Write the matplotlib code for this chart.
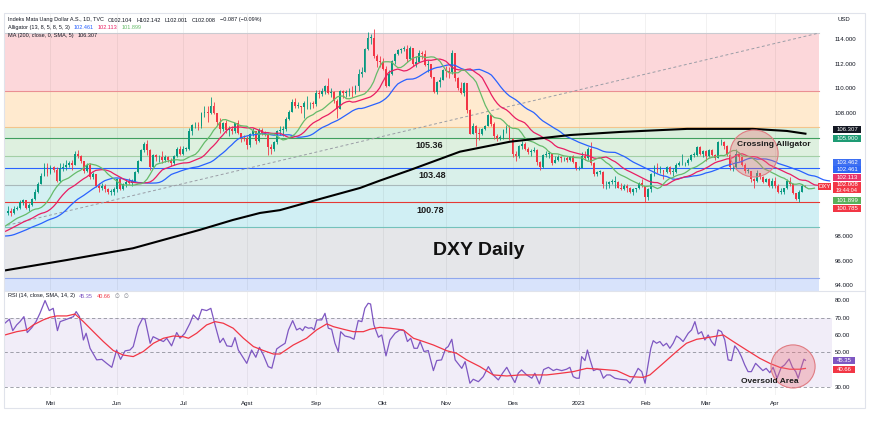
import numpy as np
import matplotlib
matplotlib.use("Agg")
import matplotlib.pyplot as plt
from matplotlib.patches import Rectangle, Ellipse

plt.rcParams['font.family'] = ['Liberation Sans', 'DejaVu Sans']

# ---------------- data (daily bars, 12 Apr 2022 .. 18 Apr 2023) ----------------
closes = [
    100.0, 99.9, 100.2, 100.3,
    100.8, 100.9, 100.3, 100.5, 101.0,
    101.6, 102.2, 102.9, 103.6, 103.1,
    103.6, 103.4, 102.5, 103.5, 103.6,
    103.8, 103.9, 103.8, 104.7, 104.5,
    104.1, 103.3, 103.8, 102.8, 103.0,
    102.1, 101.9, 102.1, 101.8, 101.6,
    101.6, 101.8, 102.6, 101.8, 102.2,
    102.4, 102.3, 102.5, 103.2, 104.1,
    105.0, 105.5, 105.0, 103.6, 104.6,
    104.4, 104.4, 104.2, 104.4, 104.2,
    103.9, 104.5, 105.1, 104.7, 105.1,
    105.1, 106.5, 107.0, 107.0, 106.9,
    108.0, 108.1, 108.0, 108.6, 108.0,
    107.3, 106.7, 107.2, 106.6, 106.7,
    106.5, 107.2, 106.4, 106.0, 105.9,
    105.4, 106.3, 106.5, 105.7, 106.6,
    106.4, 106.3, 105.2, 105.1, 105.6,
    106.5, 106.6, 106.7, 107.5, 108.1,
    108.9, 108.6, 108.6, 108.5, 108.8,
    108.8, 108.8, 108.7, 109.6, 109.5,
    109.8, 110.2, 109.6, 109.7, 109.0,
    108.3, 109.8, 109.6, 109.7, 109.8,
    109.6, 110.2, 111.2, 111.3, 113.2,
    114.1, 114.1, 112.6, 112.2, 112.1,
    111.6, 110.2, 111.2, 112.2, 112.8,
    113.1, 113.2, 113.2, 112.4, 113.3,
    112.0, 112.1, 112.9, 112.8, 111.9,
    112.0, 110.9, 109.7, 110.5, 110.7,
    111.5, 111.4, 111.3, 112.9, 110.8,
    110.0, 109.6, 110.4, 108.2, 106.3,
    106.9, 106.4, 106.3, 106.7, 106.9,
    107.8, 107.1, 106.1, 106.0, 106.0,
    106.6, 106.8, 105.9, 104.7, 104.5,
    105.3, 105.5, 105.1, 104.8, 104.9,
    105.0, 104.0, 103.6, 104.6, 104.7,
    104.7, 103.9, 104.2, 104.4, 104.3,
    104.3, 104.2, 104.5, 104.0, 103.5,
    103.5, 104.5, 104.3, 105.1, 103.9,
    103.0, 103.2, 103.2, 102.2, 102.2,
    102.4, 102.4, 102.4, 101.9, 101.8,
    102.1, 101.9, 101.6, 101.8, 101.9,
    102.3, 102.1, 101.2, 101.8, 103.0,
    103.6, 103.4, 103.4, 103.2, 103.6,
    103.2, 103.2, 103.8, 103.9, 103.9,
    103.9, 104.2, 104.6, 104.6, 105.2,
    104.7, 104.9, 104.5, 105.0, 104.6,
    104.3, 105.6, 105.6, 105.3, 104.6,
    103.6, 103.6, 104.7, 104.4, 103.8,
    103.3, 103.3, 102.6, 102.5, 103.1,
    102.8, 102.4, 102.6, 102.1, 102.5,
    102.1, 101.6, 101.6, 101.9,
    102.5, 102.2, 101.5, 101.0, 101.55, 102.1, 102.008,
]
highs = [
    100.4, 100.3, 100.4, 100.4,
    100.9, 101.0, 100.9, 100.7, 101.1,
    101.8, 102.4, 103.1, 103.9, 103.9,
    103.8, 103.7, 103.6, 103.9, 103.9,
    104.2, 104.1, 104.2, 104.9, 105.0,
    104.6, 104.1, 103.9, 103.9, 103.2,
    103.0, 102.3, 102.3, 102.2, 101.9,
    101.8, 102.0, 102.7, 102.6, 102.3,
    102.6, 102.7, 102.6, 103.3, 104.2,
    105.1, 105.6, 105.8, 105.1, 104.7,
    104.7, 104.6, 104.9, 104.6, 104.5,
    104.3, 104.6, 105.2, 105.3, 105.3,
    105.2, 106.8, 107.1, 107.3, 107.3,
    108.1, 108.6, 108.6, 109.3, 108.9,
    108.0, 107.6, 107.3, 107.4, 106.9,
    106.9, 107.2, 107.4, 106.4, 106.2,
    106.1, 106.4, 106.8, 106.5, 106.8,
    106.8, 106.5, 106.4, 105.5, 105.7,
    106.6, 106.9, 106.9, 107.7, 108.2,
    109.1, 109.2, 108.9, 108.6, 109.0,
    109.4, 108.9, 109.0, 109.9, 109.9,
    110.0, 110.3, 110.8, 110.0, 109.8,
    109.1, 109.9, 109.9, 109.9, 110.0,
    110.2, 110.3, 111.6, 111.7, 113.3,
    114.6, 114.4, 114.8, 112.8, 112.6,
    112.5, 111.8, 111.5, 112.3, 112.9,
    113.2, 113.3, 113.4, 113.5, 113.4,
    113.3, 112.6, 113.1, 113.0, 113.1,
    112.3, 112.0, 110.9, 110.6, 110.9,
    111.6, 111.8, 111.7, 113.1, 112.9,
    110.9, 110.5, 110.5, 110.4, 108.3,
    107.2, 107.0, 106.8, 106.8, 107.0,
    107.9, 107.8, 107.3, 106.3, 106.2,
    106.7, 107.0, 107.0, 106.0, 104.9,
    105.4, 105.7, 105.6, 105.2, 105.1,
    105.2, 105.1, 104.1, 104.7, 104.9,
    104.9, 104.7, 104.5, 104.6, 104.5,
    104.4, 104.5, 104.5, 104.6, 103.9,
    103.7, 104.8, 104.9, 105.2, 105.6,
    104.0, 103.3, 103.4, 103.3, 102.5,
    102.5, 102.6, 102.9, 102.5, 102.3,
    102.2, 102.2, 102.0, 101.9, 101.9,
    102.4, 102.6, 102.1, 101.9, 103.1,
    103.8, 103.9, 103.7, 103.4, 103.7,
    103.7, 103.5, 103.9, 104.1, 104.7,
    104.0, 104.3, 104.7, 104.8, 105.3,
    105.3, 105.0, 105.0, 105.1, 105.1,
    104.7, 105.7, 105.9, 105.7, 105.4,
    104.0, 103.8, 105.1, 104.8, 104.5,
    103.9, 103.5, 103.3, 102.7, 103.4,
    103.1, 102.9, 102.7, 102.7, 102.7,
    102.8, 102.2, 101.9, 101.9,
    102.6, 102.8, 102.3, 101.5, 101.7, 102.2, 102.142,
]
lows = [
    99.7, 99.6, 99.8, 100.1,
    100.2, 100.5, 100.2, 100.0, 100.4,
    100.9, 101.5, 102.2, 102.9, 102.9,
    103.0, 103.2, 102.4, 102.4, 103.3,
    103.4, 103.6, 103.4, 103.8, 104.3,
    103.9, 103.1, 103.2, 102.6, 102.6,
    102.0, 101.6, 101.7, 101.6, 101.4,
    101.3, 101.3, 101.6, 101.7, 101.7,
    102.0, 102.2, 102.1, 102.4, 103.1,
    104.1, 104.8, 104.6, 103.4, 103.6,
    104.1, 104.0, 103.9, 104.0, 104.0,
    103.7, 103.8, 104.4, 104.6, 104.6,
    104.9, 105.0, 106.2, 106.8, 106.6,
    106.8, 107.7, 107.3, 107.9, 107.9,
    107.0, 106.4, 106.5, 106.4, 106.1,
    106.3, 106.4, 106.3, 105.6, 105.7,
    105.1, 105.2, 106.1, 105.5, 105.6,
    106.2, 106.1, 104.6, 104.7, 104.9,
    105.5, 106.2, 106.1, 106.5, 107.4,
    108.1, 108.4, 108.4, 108.0, 107.6,
    108.3, 108.3, 108.4, 108.6, 109.2,
    109.4, 109.5, 109.5, 109.3, 108.8,
    107.6, 108.3, 109.2, 109.3, 109.4,
    109.3, 109.5, 109.8, 110.9, 111.3,
    113.1, 113.6, 112.5, 111.7, 111.7,
    111.5, 110.1, 110.3, 111.1, 112.0,
    112.7, 112.9, 113.0, 112.1, 112.3,
    111.8, 111.7, 112.1, 112.4, 111.8,
    111.3, 110.8, 109.6, 109.5, 110.1,
    110.7, 110.9, 110.8, 111.2, 110.6,
    109.9, 109.5, 109.4, 108.0, 106.3,
    106.3, 105.3, 105.8, 106.2, 106.6,
    106.9, 106.9, 105.9, 105.7, 105.8,
    105.9, 106.4, 105.8, 104.4, 104.1,
    104.3, 105.1, 105.0, 104.7, 104.5,
    104.8, 103.8, 103.4, 103.5, 104.4,
    104.3, 103.8, 103.9, 104.1, 104.0,
    104.1, 104.0, 104.1, 103.9, 103.4,
    103.4, 103.5, 104.2, 104.2, 103.8,
    102.9, 102.9, 103.0, 101.9, 101.8,
    101.9, 102.2, 101.9, 101.9, 101.7,
    101.7, 101.6, 101.5, 101.3, 101.6,
    101.8, 102.0, 100.8, 100.9, 101.6,
    102.9, 103.1, 103.1, 102.6, 103.1,
    103.0, 102.9, 103.1, 103.7, 103.8,
    103.7, 103.8, 104.1, 104.4, 104.5,
    104.6, 104.4, 104.1, 104.4, 104.5,
    104.2, 104.3, 105.4, 105.1, 104.5,
    103.4, 103.3, 103.5, 104.1, 103.7,
    103.1, 103.1, 102.4, 101.9, 102.4,
    102.6, 102.3, 102.4, 102.0, 101.9,
    101.9, 101.5, 101.4, 101.4,
    101.8, 102.1, 101.4, 100.9, 100.79, 101.55, 102.001,
]
first_open = 99.9
# closes before the visible range, only used to start the Alligator averages
warmup_closes = [
    96.0, 95.8, 95.7, 95.8, 96.0, 95.9, 96.1, 96.1, 96.9, 96.6,
    96.6, 97.3, 97.3, 97.7, 98.4, 98.9, 99.0, 98.0, 98.4, 99.0,
    98.9, 98.5, 98.3, 97.8, 98.1, 98.4, 98.4, 98.5, 98.7, 98.7,
    98.9, 98.3, 97.8, 98.2, 98.5, 98.9, 99.3, 99.5, 99.6, 99.7, 100.0,
]

# 200-day SMA (bar index, value)
ma200_x = [-1.1, 19.5, 41.3, 63.5, 74.4, 83.4, 90.0, 99.9, 116.5, 123.1, 133.1,
           149.6, 166.2, 176.1, 186.0, 202.6, 224.8, 246.6, 257.9, 264.0]
ma200_y = [95.2, 96.05, 97.0, 98.5, 99.3, 99.87, 100.1, 100.78, 101.9, 102.5, 103.36,
           104.85, 105.66, 105.93, 106.2, 106.45, 106.7, 106.7, 106.53, 106.31]

# RSI(14)
rsi_x = [-1.1, 0.4, 1.5, 2.8, 3.9, 5.2, 6.3, 7.8, 9.2, 10.5, 12.2, 13.6, 14.9, 16.3,
         17.2, 19.4, 21.6, 22.5, 23.6, 24.9, 25.8, 27.1, 29.3, 31.0, 32.6, 34.3, 35.9,
         37.2, 38.7, 40.3, 41.4, 43.1, 44.5, 45.3, 47.0, 48.0, 49.7, 51.4, 52.5, 54.1,
         55.8, 56.9, 58.5, 60.2, 61.3, 62.9, 64.1, 65.7, 67.1, 68.5, 70.1, 71.2, 72.4,
         74.0, 75.1, 76.2, 79.0, 80.6, 82.0, 83.2, 84.5, 86.1, 87.3, 88.9, 90.0, 91.7,
         92.8, 94.2, 95.5, 96.6, 97.5, 98.3, 99.4, 100.5, 101.3, 102.2, 103.8, 104.9,
         106.0, 107.1, 108.2, 109.3, 110.1, 111.5, 113.2, 114.5, 115.9, 117.1, 118.1,
         119.2, 120.0, 121.1, 122.6, 123.7, 125.1, 126.4, 128.1, 129.7, 131.1, 132.2,
         133.3, 134.4, 135.5, 136.4, 137.7, 139.1, 140.8, 141.9, 143.5, 144.9, 145.7,
         146.9, 148.0, 150.2, 151.3, 152.9, 154.0, 155.7, 157.3, 159.0, 160.6, 162.3,
         163.7, 165.1, 166.7, 167.8, 168.9, 170.0, 171.7, 173.4, 174.4, 175.9, 177.3,
         178.9, 180.5, 181.6, 183.3, 184.9, 186.0, 187.1, 188.2, 189.1, 189.9, 191.0,
         191.8, 192.7, 193.8, 194.9, 196.0, 197.1, 198.2, 199.3, 200.9, 202.6, 204.8,
         205.9, 207.5, 208.6, 209.8, 210.9, 211.6, 212.8, 213.6, 214.7, 215.8, 216.9,
         218.0, 219.1, 220.2, 221.3, 222.4, 223.5, 225.2, 226.3, 227.4, 228.5, 229.6,
         230.7, 231.8, 232.9, 234.0, 235.1, 236.2, 237.3, 238.4, 239.5, 240.6, 241.7,
         242.8, 243.9, 245.0, 246.1, 247.5, 248.8, 249.9, 251.0, 252.2, 253.3, 254.6,
         256.0, 257.1, 258.6, 259.7, 260.8, 261.6, 262.7, 263.5, 264.0]
rsi_y = [66.8, 69.1, 62.5, 65.8, 67.7, 70.6, 61.4, 64.2, 67.7, 72.5, 79.9, 74.1, 75.4, 62.5,
         67.7, 69.1, 70.6, 73.5, 70.6, 57.1, 61.0, 52.3, 45.6, 45.9, 43.6, 41.3, 51.3,
         45.9, 50.8, 51.3, 53.3, 64.8, 69.6, 69.1, 55.2, 59.0, 57.5, 56.2, 58.1, 53.7,
         61.4, 58.1, 61.0, 66.8, 71.6, 68.7, 74.8, 74.1, 75.4, 65.8, 55.6, 58.1, 53.7,
         53.3, 58.5, 51.3, 43.6, 51.3, 47.1, 52.9, 48.4, 41.7, 40.8, 51.9, 53.3, 55.2,
         62.9, 68.3, 62.9, 63.9, 62.5, 64.8, 63.9, 64.2, 62.9, 68.7, 68.7, 72.5,
         63.9, 63.3, 55.2, 50.4, 61.9, 59.4, 58.7, 57.5, 68.3, 67.7, 75.4,
         78.3, 77.9, 65.8, 58.7, 60.0, 47.9, 57.1, 61.0, 62.9, 62.5, 56.2,
         58.1, 52.3, 52.3, 56.2, 50.4, 51.0, 39.4, 45.2, 45.6, 52.3, 53.3,
         57.5, 45.6, 40.7, 44.6, 32.1, 34.4, 33.0, 35.9, 41.7, 36.9, 34.0,
         37.9, 41.3, 35.9, 32.5, 37.9, 39.8, 36.9, 35.0, 37.9, 31.7, 40.0,
         41.3, 39.4, 40.2, 39.4, 40.2, 41.3, 35.9, 35.0, 35.0, 47.5, 45.2,
         51.3, 45.6, 39.4, 40.2, 39.8, 35.0, 36.9, 36.9, 35.0, 34.4, 34.0,
         32.1, 36.9, 40.7, 38.8, 32.1, 39.8, 52.3, 56.7, 55.2, 56.2, 53.7,
         55.2, 52.3, 55.2, 59.4, 58.1, 56.2, 61.0, 62.9, 67.7, 60.6, 61.9,
         57.1, 60.0, 56.2, 53.8, 62.9, 61.9, 57.1, 45.6, 45.2, 53.7, 51.3,
         47.5, 42.7, 38.8, 38.8, 43.6, 41.3, 39.4, 40.7, 38.2, 41.3, 35.0,
         41.3, 42.7, 46.1, 41.3, 38.8, 35.0, 41.7, 46.0, 45.35]
# SMA(14) of RSI
rsi_ma_x = [-1.1, 2.8, 6.1, 8.3, 11.6, 13.8, 16.1, 19.4, 22.1, 24.9, 28.2, 31.5, 34.8,
            38.1, 41.4, 44.7, 48.1, 51.4, 54.7, 58.0, 59.7, 62.4, 65.7, 68.5, 71.2, 74.5,
            77.9, 81.2, 84.5, 87.8, 90.0, 94.4, 98.8, 102.1, 105.5, 107.7, 111.0, 114.3,
            117.6, 119.8, 123.1, 126.4, 130.8, 134.2, 137.5, 140.8, 145.2, 148.5, 151.8,
            156.2, 160.6, 165.1, 169.5, 173.9, 178.3, 182.7, 187.1, 191.6, 196.0, 201.5,
            205.9, 210.3, 212.5, 216.9, 221.3, 224.6, 228.0, 232.4, 236.8, 240.1, 244.5,
            248.9, 252.2, 255.5, 258.8, 262.1, 264.0]
rsi_ma_y = [60.0, 61.9, 62.9, 65.8, 68.7, 70.2, 71.0, 71.0, 72.1, 67.7, 61.9, 56.2, 51.0,
            48.4, 47.5, 50.4, 55.2, 58.1, 59.4, 59.0, 58.1, 61.0, 65.8, 67.7, 66.8, 63.9,
            58.1, 53.3, 51.0, 49.0, 49.0, 54.2, 58.1, 62.9, 66.4, 64.8, 63.3, 61.9,
            61.9, 63.3, 64.4, 63.9, 62.9, 58.1, 56.2, 54.2, 50.9, 49.4, 45.6,
            41.7, 36.9, 36.3, 36.9, 36.9, 36.9, 37.8, 38.8, 40.7, 40.2, 39.4,
            35.9, 35.5, 36.9, 43.6, 50.4, 55.2, 57.5, 58.7, 60.0, 56.2, 51.3,
            46.5, 43.6, 41.3, 40.2, 40.2, 40.66]

# Fibonacci retracement levels drawn on the chart
fib_levels = [114.46, 109.78, 106.83, 105.93, 104.49, 103.50, 102.14, 100.78, 98.75, 94.56]
fib_lines = ['#c9cbd1', '#ea8f93', '#f3c58c', '#3f9f5f', '#a3cfa6', '#2962ff',
             '#a9b9bb', '#e53935', '#74c2bb', '#90a8ee']
fib_fills = ['#fcd7da', '#ffeacf', '#d8eedb', '#def0df', '#d9efe5', '#d9f0ea',
             '#d3f0f2', '#d0eff4', '#e5e6e9', '#d8e3fb']
fib_end = 268.5
trend_x = [-2.0, 268.5]
trend_y = [98.77, 114.49]

month_ticks = [14, 36, 58, 79, 102, 124, 145, 167, 189, 211, 231, 254]
month_labels = ['Mei', 'Jun', 'Jul', 'Agst', 'Sep', 'Okt', 'Nov', 'Des', '2023', 'Feb', 'Mar', 'Apr']

# ---------------- layout helpers ----------------
W, H = 870, 426
def fx(px):
    return px / W
def fy(py):
    return 1 - py / H

XL, XR = -1.23, 272.8
TXT = '#131722'

fig = plt.figure(figsize=(W / 100, H / 100), dpi=100, facecolor='white')
ax = fig.add_axes([fx(4.5), fy(290), fx(832) - fx(4.5), fy(12.7) - fy(290)])
ar = fig.add_axes([fx(4.5), fy(395), fx(832) - fx(4.5), fy(290.5) - fy(395)])

for a in (ax, ar):
    a.set_xlim(XL, XR)
    for s in a.spines.values():
        s.set_visible(False)
    a.set_xticks(month_ticks)
    for m in month_ticks:
        a.axvline(m, color='black', alpha=0.06, lw=0.6, zorder=1.5)

ax.set_ylim(93.61, 116.14)
ar.set_ylim(25.3, 85.7)

# ---------------- main pane ----------------
lv = fib_levels + [93.0]
for i in range(len(fib_levels)):
    ax.fill_between([XL, fib_end], lv[i + 1], lv[i], color=fib_fills[i], lw=0, zorder=1)
    ax.plot([XL, fib_end], [fib_levels[i]] * 2, color=fib_lines[i], lw=0.8, zorder=1.6)
ax.plot(trend_x, trend_y, color='#9a9da6', lw=0.7, ls=(0, (3, 2.5)), zorder=1.7)

c = np.array(closes)
hi = np.array(highs)
lo = np.array(lows)
o = np.concatenate([[first_open], c[:-1]])
hi = np.maximum(hi, np.maximum(o, c))
lo = np.minimum(lo, np.minimum(o, c))
x = np.arange(len(c))
cols = np.where(c >= o, '#089981', '#f23645')
ax.vlines(x, lo, hi, colors=cols, lw=0.6, zorder=3)
ax.bar(x, np.maximum(np.abs(c - o), 0.04), bottom=np.minimum(o, c), width=0.62,
       color=cols, lw=0, zorder=4)

# Alligator: smoothed moving averages of the median price, shifted forward
med = np.concatenate([warmup_closes, (hi + lo) / 2])
def smma(vals, n):
    out = np.full(len(vals), np.nan)
    out[n - 1] = np.mean(vals[:n])
    for k in range(n, len(vals)):
        out[k] = (out[k - 1] * (n - 1) + vals[k]) / n
    return out
base = np.arange(len(med)) - len(warmup_closes)
for n, shift, col in [(13, 8, '#2962ff'), (8, 5, '#e91e63'), (5, 3, '#66bb6a')]:
    ax.plot(base + shift, smma(med, n), color=col, lw=0.9, zorder=5)

ax.plot(ma200_x, ma200_y, color='black', lw=1.5, zorder=5)

ax.add_patch(Ellipse((247.0, 104.70), 15.9, 3.82, facecolor=(0.93, 0.45, 0.48, 0.35),
                     edgecolor='#e07b82', lw=0.8, zorder=6))
ax.text(241.3, 105.47, 'Crossing Alligator', fontsize=6, fontweight='bold', color='#1c1c1c',
        ha='left', va='center', zorder=7)
ax.text(155.9, 96.8, 'DXY Daily', fontsize=14, fontweight='bold', color='#111111',
        ha='center', va='center', zorder=7)
for xt, yt, s in [(139.3, 105.31, '105.36'), (140.3, 102.95, '103.48'), (139.7, 100.05, '100.78')]:
    ax.text(xt, yt, s, fontsize=6.5, fontweight='bold', color='#1c1c1c',
            ha='center', va='center', zorder=7)

ax.yaxis.tick_right()
ax.set_yticks([94, 96, 98, 108, 110, 112, 114])
ax.set_yticklabels(['%.3f' % v for v in [94, 96, 98, 108, 110, 112, 114]])
ax.tick_params(axis='y', length=0, pad=2.2, labelsize=4.4, labelcolor=TXT)
ax.tick_params(axis='x', length=0, labelbottom=False)

# ---------------- RSI pane ----------------
ar.fill_between([XL, XR], 30, 70, color='#7e57c2', alpha=0.1, lw=0, zorder=1)
for lvl in (70, 50, 30):
    ar.axhline(lvl, color='#787b86', lw=0.6, ls=(0, (4, 3)), alpha=0.8, zorder=1.8)
ar.plot(rsi_x, rsi_y, color='#7e57c2', lw=0.9, zorder=4)
ar.plot(rsi_ma_x, rsi_ma_y, color='#f23645', lw=0.9, zorder=4)
ar.add_patch(Ellipse((259.9, 41.8), 14.6, 24.9, facecolor=(0.93, 0.45, 0.48, 0.35),
                     edgecolor='#e07b82', lw=0.8, zorder=6))
ar.text(252.3, 33.0, 'Oversold Area', fontsize=6, fontweight='bold', color='#1c1c1c',
        ha='center', va='center', zorder=7)
ar.yaxis.tick_right()
ar.set_yticks([30, 50, 60, 70, 80])
ar.set_yticklabels(['%.2f' % v for v in [30, 50, 60, 70, 80]])
ar.tick_params(axis='y', length=0, pad=2.2, labelsize=4.4, labelcolor=TXT)
ar.set_xticklabels(month_labels)
ar.tick_params(axis='x', length=0, pad=4.0, labelsize=4.4, labelcolor=TXT)

# ---------------- frame, legends, price tags ----------------
fig.add_artist(Rectangle((fx(4), fy(408)), fx(865) - fx(4), fy(12.7) - fy(408),
                         transform=fig.transFigure, fill=False, edgecolor='#e0e3eb', lw=0.8))
fig.add_artist(plt.Line2D([fx(4), fx(865)], [fy(290.5)] * 2, transform=fig.transFigure,
                          color='#e0e3eb', lw=0.8))

fs = 4.0
renderer = fig.canvas.get_renderer()

def chain(py, parts, x0=8, gap=4.0):
    xpos = x0
    for s, col in parts:
        t = fig.text(fx(xpos), fy(py), s, fontsize=fs, color=col, va='center')
        xpos += t.get_window_extent(renderer).width + gap

chain(20, [('Indeks Mata Uang Dollar A.S., 1D, TVC', TXT), ('O102.104', TXT), ('H102.142', TXT),
           ('L102.001', TXT), ('C102.008', TXT), ('\u22120.087 (\u22120.09%)', TXT)])
chain(27.7, [('Alligator (13, 8, 5, 8, 5, 3)', TXT), ('102.461', '#2962ff'),
             ('102.113', '#e91e63'), ('101.899', '#66bb6a')])
chain(35.2, [('MA (200, close, 0, SMA, 5)', TXT), ('106.307', TXT)])
chain(296, [('RSI (14, close, SMA, 14, 2)', TXT), ('45.35', '#7e57c2'), ('40.66', '#f23645'),
            ('\u2205', '#787b86'), ('\u2205', '#787b86')])
fig.text(fx(838), fy(19.7), 'USD', fontsize=4.3, color=TXT, va='center')

def tag(yc, label, color, x0=833, w=28, h=7):
    fig.add_artist(Rectangle((fx(x0), fy(yc + h / 2)), w / W, h / H, transform=fig.transFigure,
                             facecolor=color, edgecolor='none'))
    fig.text(fx(x0 + w / 2), fy(yc), label, fontsize=4.3, color='white',
             ha='center', va='center')

tag(129.5, '106.307', '#131722')
tag(138.8, '105.900', '#1e9b74')
tag(162.3, '103.462', '#3d6ff2')
tag(169.8, '102.461', '#2f66f5')
tag(177.8, '102.113', '#e8356d')
fig.add_artist(Rectangle((fx(833), fy(193.5)), 28 / W, 12 / H, transform=fig.transFigure,
                         facecolor='#f23645', edgecolor='none'))
fig.text(fx(847), fy(184.8), '102.008', fontsize=4.3, color='white', ha='center', va='center')
fig.text(fx(847), fy(190.4), '19:44:04', fontsize=4.0, color='white', ha='center', va='center')
tag(200.8, '101.899', '#58b05a')
tag(208.6, '100.785', '#f23645')
tag(186.3, 'DXY', '#f23645', x0=818, w=13, h=6.5)
tag(360.0, '45.35', '#7e57c2', w=22)
tag(369.2, '40.66', '#f23645', w=22)

fig.savefig('out.png', dpi=100, facecolor='white')
